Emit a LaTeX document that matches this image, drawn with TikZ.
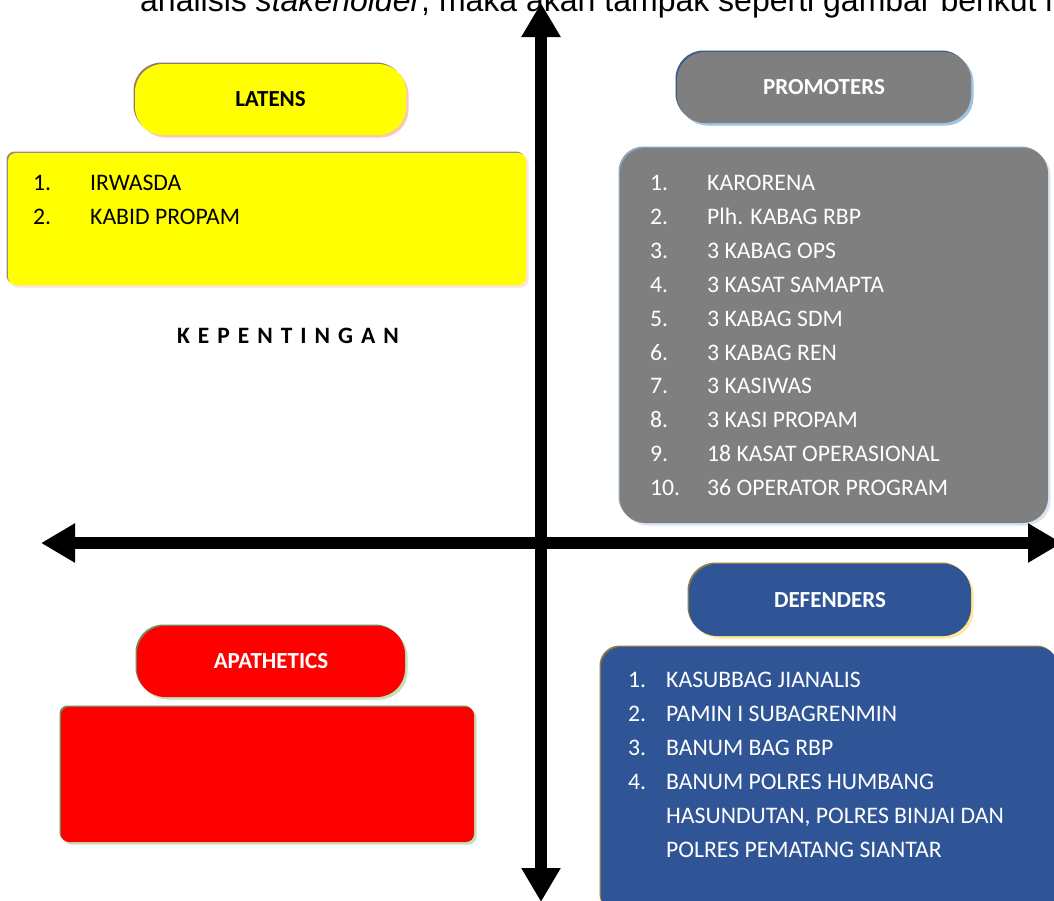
\documentclass[tikz,border=0pt]{standalone}
\usepackage{fontspec}
\setmainfont{Carlito}
\newfontfamily\arialf{Liberation Sans}
\usetikzlibrary{arrows.meta,shadows}
\definecolor{latyellow}{HTML}{FFFF00}
\definecolor{latdark}{HTML}{927C6E}
\definecolor{latlight}{HTML}{F8CBAD}
\definecolor{latdarkb}{HTML}{9A8B85}
\definecolor{latlightb}{HTML}{FBE5D6}
\definecolor{promgray}{HTML}{7F7F7F}
\definecolor{promdark}{HTML}{385D8A}
\definecolor{promlight}{HTML}{9DC3E6}
\definecolor{promdarkb}{HTML}{8EA3BA}
\definecolor{promlightb}{HTML}{DAE5F1}
\definecolor{defblue}{HTML}{2F5597}
\definecolor{defdark}{HTML}{8C7A44}
\definecolor{deflight}{HTML}{FFE699}
\definecolor{apared}{HTML}{FF0000}
\definecolor{apadark}{HTML}{6E8A5E}
\definecolor{apalight}{HTML}{C5E0B4}
\begin{document}
\begin{tikzpicture}[x=1pt,y=-1pt,
  bev/.style 2 args={general shadow={shadow xshift=2.5pt,shadow yshift=-2.5pt,fill=#2},
                     general shadow={shadow xshift=-1.5pt,shadow yshift=1.5pt,fill=#1}},
  labelbox/.style={rectangle,rounded corners=28pt,inner sep=0pt,minimum height=71pt,
                   font=\fontsize{23}{27}\selectfont\bfseries},
  contentbox/.style={rectangle,inner sep=0pt},
  item/.style={anchor=base west,inner sep=0pt,font=\fontsize{23.7}{28}\selectfont},
  axis/.style={line width=12pt,{Triangle[length=34pt,width=37pt]}-{Triangle[length=34pt,width=37pt]}}
]
\useasboundingbox (0,0) rectangle (1054,900);
\fill[white] (0,0) rectangle (1054,900);

% intro text (cut at top)
\node[anchor=base west,inner sep=0pt,font=\arialf\fontsize{32}{38}\selectfont] (intro) at (140,11)
  {analisis \textit{stakeholder}, maka akan tampak seperti gambar berikut ini};

% LATENS
\node[labelbox,minimum width=271pt,fill=latyellow,bev={latdark}{latlight},text=black] (latens) at (270.5,99.5) {LATENS};
\node[contentbox,minimum width=518pt,minimum height=132pt,rounded corners=8pt,fill=latyellow,bev={latdarkb}{latlightb}] (latbox) at (267,219) {};
\foreach \t [count=\i] in {IRWASDA,KABID PROPAM}{
  \pgfmathsetmacro{\yy}{183+(\i-1)*34+7.5}
  \node[item] (ln\i) at (33,\yy) {\i.};
  \node[item] (lt\i) at (90,\yy) {\t};
}
\node[anchor=base,inner sep=0pt,font=\fontsize{23.5}{27}\selectfont\bfseries\addfontfeature{LetterSpace=34}] (kep) at (288,343) {KEPENTINGAN};

% PROMOTERS
\node[labelbox,minimum width=294pt,fill=promgray,bev={promdark}{promlight},text=white] (prom) at (824,87.5) {PROMOTERS};
\node[contentbox,minimum width=428pt,minimum height=375pt,rounded corners=25pt,fill=promgray,bev={promdarkb}{promlightb}] (prombox) at (834,335.5) {};
\foreach \t [count=\i] in {KARORENA,Plh. KABAG RBP,3 KABAG OPS,3 KASAT SAMAPTA,3 KABAG SDM,3 KABAG REN,3 KASIWAS,3 KASI PROPAM,18 KASAT OPERASIONAL,36 OPERATOR PROGRAM}{
  \pgfmathsetmacro{\yy}{183+(\i-1)*33.9+7.5}
  \node[item,text=white] (pn\i) at (650,\yy) {\i.};
  \node[item,text=white] (pt\i) at (707,\yy) {\t};
}

% DEFENDERS
\node[labelbox,minimum width=282pt,minimum height=72pt,fill=defblue,bev={defdark}{deflight},text=white] (def) at (830,600) {DEFENDERS};
\node[contentbox,minimum width=457pt,minimum height=268pt,rounded corners=20pt,fill=defblue,bev={defdark}{deflight}] (defbox) at (829.5,781) {};
\foreach \n/\t [count=\i] in {1./KASUBBAG JIANALIS,2./PAMIN I SUBAGRENMIN,3./BANUM BAG RBP,4./BANUM POLRES HUMBANG,/{HASUNDUTAN, POLRES BINJAI DAN},/POLRES PEMATANG SIANTAR}{
  \pgfmathsetmacro{\yy}{680+(\i-1)*34+7.5}
  \node[item,text=white] (dn\i) at (628,\yy) {\n};
  \node[item,text=white] (dt\i) at (666,\yy) {\t};
}

% APATHETICS
\node[labelbox,minimum width=268pt,fill=apared,bev={apadark}{apalight},text=white] (apa) at (271,661.5) {APATHETICS};
\node[contentbox,minimum width=413pt,minimum height=135pt,rounded corners=8pt,fill=apared,bev={apadark}{apalight}] (apabox) at (267.5,774.5) {};

% axes
\coordinate (vtop) at (541,3);
\coordinate (vbot) at (541,902);
\coordinate (hleft) at (41,543);
\coordinate (hright) at (1062,543);
\draw[axis] (vbot) -- (vtop);
\draw[axis] (hleft) -- (hright);
\end{tikzpicture}
\end{document}
